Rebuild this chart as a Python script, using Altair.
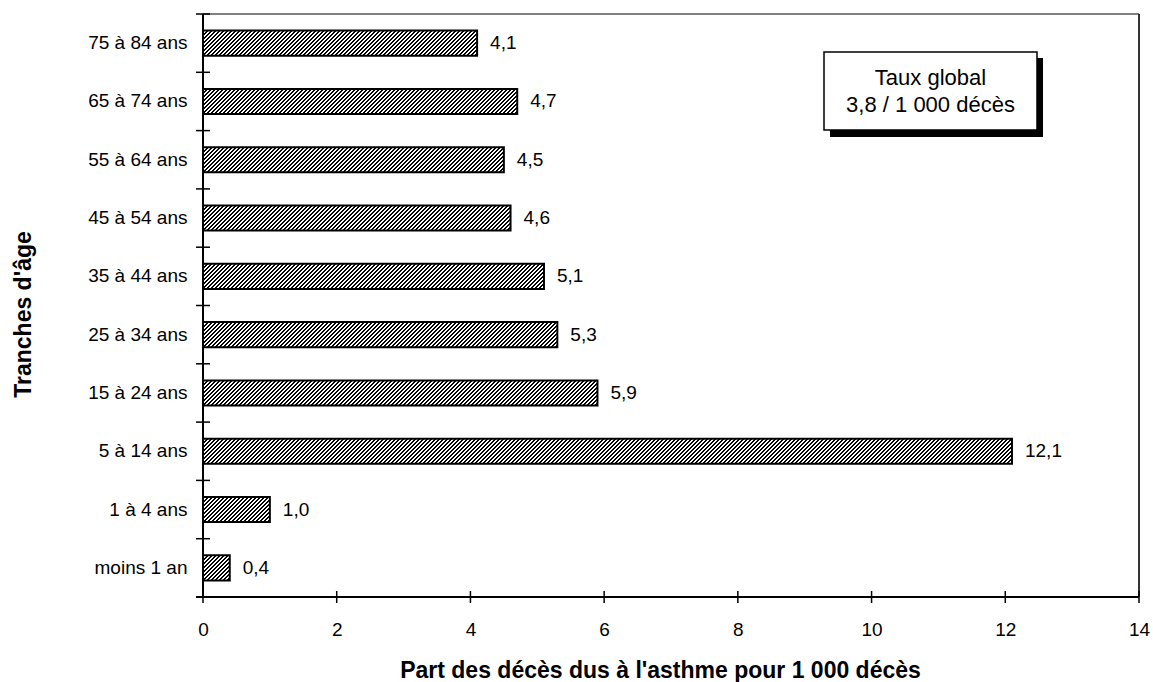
import math
import altair as alt
import pandas as pd

# ---- data ----
categories = ["moins 1 an", "1 à 4 ans", "5 à 14 ans", "15 à 24 ans", "25 à 34 ans",
              "35 à 44 ans", "45 à 54 ans", "55 à 64 ans", "65 à 74 ans", "75 à 84 ans"]
values = [0.4, 1.0, 12.1, 5.9, 5.3, 5.1, 4.6, 4.5, 4.7, 4.1]
x_ticks = [0, 2, 4, 6, 8, 10, 12, 14]
box_lines = ["Taux global", "3,8 / 1 000 décès"]
x_title = "Part des décès dus à l'asthme pour 1 000 décès"
y_title = "Tranches d'âge"

# ---- layout / style ----
FONT = "Liberation Sans"
W, H = 936, 583
XMAX = 14
BAR_FRAC = 0.43
BAR_H = (H / len(categories)) * BAR_FRAC
PERIOD = 4
BLACK_FRAC = 0.5

df = pd.DataFrame({"cat": categories, "val": values})
order = categories[::-1]

x_scale = alt.Scale(domain=[0, XMAX], nice=False, zero=True)
y_scale = alt.Scale(domain=order, paddingInner=0, paddingOuter=0)


def hatch(v):
    """Diagonal '////' hatch as a hard-stop linear gradient in bbox units,
    with an exact pixel period along x+y."""
    w = v / XMAX * W
    h = BAR_H
    n = math.ceil((w + h) / PERIOD)
    L = n * PERIOD
    k = L / (w * w + h * h)
    stops = []
    for j in range(n):
        a, b, c = j / n, (j + BLACK_FRAC) / n, (j + 1) / n
        stops += [
            alt.GradientStop(offset=a, color="black"),
            alt.GradientStop(offset=b, color="black"),
            alt.GradientStop(offset=b, color="white"),
            alt.GradientStop(offset=c, color="white"),
        ]
    return alt.LinearGradient(gradient="linear", stops=stops, x1=0, y1=0, x2=w * k, y2=h * k)


base = alt.Chart(df)

x_axis = alt.Axis(
    values=x_ticks, domain=False, grid=False, ticks=False, labelFlush=False,
    labelFont=FONT, labelFontSize=19, labelColor="black", labelPadding=23,
    title=x_title, titleFont=FONT, titleFontSize=23, titleFontWeight="bold",
    titleColor="black", titleBaseline="alphabetic", titleX=457, titleY=80,
)
y_axis = alt.Axis(
    domain=False, grid=False, ticks=False,
    labelFont=FONT, labelFontSize=19, labelColor="black", labelPadding=16,
    title=y_title, titleFont=FONT, titleFontSize=23, titleFontWeight="bold",
    titleColor="black", titleBaseline="alphabetic", titleAngle=-90,
    titleX=-173, titleY=300,
)

X = alt.X("val:Q", scale=x_scale, axis=x_axis)
Y = alt.Y("cat:N", scale=y_scale, sort=order, axis=y_axis)

layers = []
for c, v in zip(categories, values):
    layers.append(
        base.transform_filter(alt.datum.cat == c)
        .mark_bar(fill=hatch(v), stroke="black", strokeWidth=2,
                  height=alt.RelativeBandSize(band=BAR_FRAC))
        .encode(x=X, y=Y)
    )

labels = (
    base.transform_calculate(lab="replace(format(datum.val, '.1f'), '.', ',')")
    .mark_text(align="left", baseline="middle", dx=13, font=FONT, fontSize=19, color="black")
    .encode(x=X, y=Y, text="lab:N")
)

one = alt.Chart(pd.DataFrame({"k": [0]}))
frame = [
    one.mark_rule(color="#808080", strokeWidth=2).encode(x=alt.value(0), x2=alt.value(W), y=alt.value(0)),
    one.mark_rule(color="#333333", strokeWidth=2).encode(x=alt.value(W), y=alt.value(0), y2=alt.value(H)),
    one.mark_rule(color="black", strokeWidth=2).encode(x=alt.value(0), y=alt.value(0), y2=alt.value(H)),
    one.mark_rule(color="black", strokeWidth=2).encode(x=alt.value(-7), x2=alt.value(W), y=alt.value(H)),
]

# crossing tick marks
x_tick_marks = alt.Chart(pd.DataFrame({"t": x_ticks})).mark_rule(color="black", strokeWidth=1.5).encode(
    x=alt.X("t:Q", scale=x_scale, axis=x_axis), y=alt.value(H - 6), y2=alt.value(H + 6))
y_tick_marks = base.mark_rule(color="black", strokeWidth=1.5).encode(
    y=alt.Y("cat:N", scale=y_scale, sort=order, axis=y_axis, bandPosition=0),
    x=alt.value(-7), x2=alt.value(7))

box = [
    one.mark_rect(color="black").encode(x=alt.value(627), x2=alt.value(840), y=alt.value(44), y2=alt.value(123)),
    one.mark_rect(fill="white", stroke="black", strokeWidth=1.5).encode(
        x=alt.value(621), x2=alt.value(834), y=alt.value(38), y2=alt.value(116)),
    one.mark_text(font=FONT, fontSize=22, color="black", align="center", baseline="alphabetic",
                  text=box_lines[0]).encode(x=alt.value(727.5), y=alt.value(71)),
    one.mark_text(font=FONT, fontSize=22, color="black", align="center", baseline="alphabetic",
                  text=box_lines[1]).encode(x=alt.value(727.5), y=alt.value(98)),
]

chart = alt.layer(*layers, labels, *frame, x_tick_marks, y_tick_marks, *box).properties(
    width=W, height=H,
    autosize=alt.AutoSizeParams(type="none"),
    padding={"left": 203, "top": 14, "right": 14, "bottom": 85},
    background="white",
).configure_view(stroke=None)

chart.save("out.html", embed_options={"renderer": "svg", "actions": False})
